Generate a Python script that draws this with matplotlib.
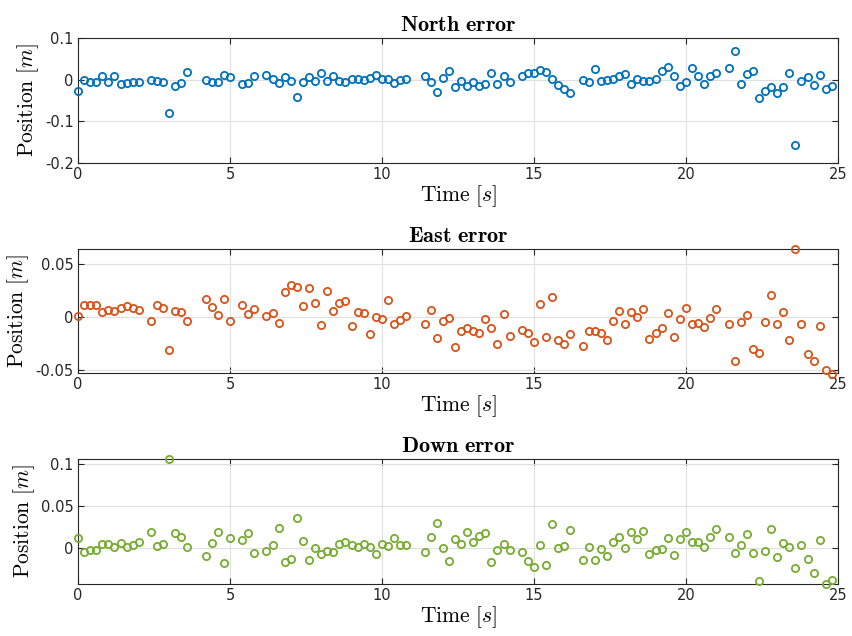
import numpy as np
import matplotlib
matplotlib.use('Agg')
import matplotlib.pyplot as plt

plt.rcParams['mathtext.fontset'] = 'cm'
plt.rcParams['font.family'] = 'DejaVu Sans'

# sample times [s] (a few samples are missing)
time = [0.0, 0.2, 0.4, 0.6, 0.8, 1.0, 1.2, 1.4, 1.6, 1.8, 2.0,
        2.4, 2.6, 2.8, 3.0, 3.2, 3.4, 3.6,
        4.2, 4.4, 4.6, 4.8, 5.0,
        5.4, 5.6, 5.8,
        6.2, 6.4, 6.6, 6.8, 7.0, 7.2, 7.4, 7.6, 7.8, 8.0, 8.2, 8.4,
        8.6, 8.8, 9.0, 9.2, 9.4, 9.6, 9.8, 10.0, 10.2, 10.4, 10.6, 10.8,
        11.4, 11.6, 11.8, 12.0, 12.2, 12.4, 12.6, 12.8, 13.0, 13.2, 13.4,
        13.6, 13.8, 14.0, 14.2,
        14.6, 14.8, 15.0, 15.2, 15.4, 15.6, 15.8, 16.0, 16.2,
        16.6, 16.8, 17.0, 17.2, 17.4, 17.6, 17.8, 18.0, 18.2, 18.4, 18.6,
        18.8, 19.0, 19.2, 19.4, 19.6, 19.8, 20.0, 20.2, 20.4, 20.6, 20.8, 21.0,
        21.4, 21.6, 21.8, 22.0, 22.2, 22.4, 22.6, 22.8, 23.0, 23.2, 23.4,
        23.6, 23.8, 24.0, 24.2, 24.4, 24.6, 24.8]

north_err = [-0.027, 0.0, -0.0065, -0.005, 0.008, -0.005, 0.008, -0.011, -0.008, -0.0065, -0.0065,
             0.0, -0.004, -0.0065, -0.081, -0.015, -0.008, 0.018,
             0.0, -0.0065, -0.0065, 0.011, 0.006,
             -0.011, -0.007, 0.009,
             0.011, 0.001, -0.009, 0.006, -0.002, -0.041, -0.0065, 0.007, -0.002, 0.015, -0.002, 0.008,
             -0.004, -0.005, 0.002, 0.002, -0.001, 0.003, 0.011, 0.001, 0.001, -0.008, 0.0, 0.001,
             0.009, -0.006, -0.030, 0.004, 0.020, -0.018, -0.004, -0.016, -0.0065, -0.016, -0.010,
             0.016, -0.010, 0.009, -0.005,
             0.008, 0.016, 0.015, 0.024, 0.018, 0.002, -0.012, -0.023, -0.031,
             0.0, -0.006, 0.026, -0.002, 0.0, 0.002, 0.008, 0.014, -0.010, 0.002, -0.004,
             -0.004, 0.002, 0.021, 0.031, 0.008, -0.015, -0.005, 0.028, 0.010, -0.010, 0.008, 0.015,
             0.028, 0.070, -0.011, 0.013, 0.021, -0.045, -0.026, -0.018, -0.033, -0.018, 0.015,
             -0.156, -0.002, 0.007, -0.013, 0.011, -0.023, -0.015]

east_err = [0.001, 0.0107, 0.0113, 0.0107, 0.0044, 0.0066, 0.0053, 0.0085, 0.0104, 0.0082, 0.0066,
            -0.0038, 0.0113, 0.0088, -0.031, 0.0053, 0.0044, -0.0038,
            0.0167, 0.0097, 0.0022, 0.0167, -0.0035,
            0.0113, 0.0031, 0.0072,
            0.0006, 0.0038, -0.0057, 0.0233, 0.0302, 0.0277, 0.0101, 0.027, 0.0126, -0.0079, 0.0242, 0.0057,
            0.0135, 0.0151, -0.0082, 0.0044, 0.0035, -0.0164, -0.0006, -0.0025, 0.016, -0.0072, -0.0031, 0.0009,
            -0.0066, 0.006, -0.020, -0.0038, -0.0009, -0.0289, -0.013, -0.0104, -0.0135, -0.0148, -0.0022,
            -0.0107, -0.0255, 0.0028, -0.018,
            -0.012, -0.0157, -0.0242, 0.0123, -0.0192, 0.0186, -0.0223, -0.0255, -0.0164,
            -0.0274, -0.0135, -0.0129, -0.0151, -0.0217, -0.0041, 0.0057, -0.0072, 0.0041, 0.0, 0.0072,
            -0.0211, -0.0157, -0.0107, 0.0038, -0.0192, -0.0025, 0.0082, -0.0063, -0.0057, -0.0094, -0.0009, 0.0072,
            -0.0072, -0.0418, -0.005, 0.0019, -0.0308, -0.0343, -0.005, 0.0208, -0.0063, 0.005, -0.022,
            0.0638, -0.0072, -0.0355, -0.0421, -0.0091, -0.0503, -0.0541]

down_err = [0.0119, -0.0044, -0.0016, -0.0016, 0.0048, 0.0052, 0.002, 0.0067, 0.0016, 0.0044, 0.0071,
            0.019, 0.0024, 0.0052, 0.106, 0.0175, 0.0139, 0.0016,
            -0.0095, 0.0067, 0.0187, -0.0171, 0.0119,
            0.0103, 0.0175, -0.006,
            -0.0036, 0.004, 0.0238, -0.0159, -0.0131, 0.0357, 0.0091, -0.0139, 0.0004, -0.0067, -0.0028, -0.0048,
            0.0048, 0.0071, 0.0036, 0.002, 0.0052, 0.002, -0.0071, 0.0048, 0.0024, 0.0123, 0.0044, 0.004,
            -0.0048, 0.0139, 0.0298, 0.0, -0.0151, 0.0115, 0.0052, 0.0187, 0.0075, 0.0151, 0.0175,
            -0.0167, -0.002, 0.0048, -0.0016,
            -0.0044, -0.0147, -0.0218, 0.004, -0.0198, 0.029, 0.0004, 0.0028, 0.0214,
            -0.0143, 0.002, -0.0135, -0.0008, -0.0087, 0.0079, 0.0135, 0.0, 0.0198, 0.0107, 0.0202,
            -0.0067, -0.0016, -0.0008, 0.0123, -0.0075, 0.0107, 0.019, 0.0079, 0.0075, 0.0016, 0.0131, 0.0226,
            0.0135, -0.0056, 0.0036, 0.0171, -0.006, -0.0393, -0.0032, 0.0226, -0.0099, 0.0063, 0.0012,
            -0.0238, 0.0036, -0.0123, -0.0298, 0.0103, -0.0425, -0.0377]

titles = ['North error', 'East error', 'Down error']
colors = ['#0072BD', '#D95319', '#77AC30']
ylims = [(-0.2, 0.1), (-0.053, 0.064), (-0.0425, 0.106)]
yticks = [[-0.2, -0.1, 0, 0.1], [-0.05, 0, 0.05], [0, 0.05, 0.1]]
ytick_labels = [['-0.2', '-0.1', '0', '0.1'], ['-0.05', '0', '0.05'], ['0', '0.05', '0.1']]
xticks = [0, 5, 10, 15, 20, 25]

fig = plt.figure(figsize=(8.52, 6.36), dpi=100)
# axes boxes in figure fractions (left, bottom, width, height)
boxes = [[0.0915, 0.7437, 0.892, 0.1965],
         [0.0915, 0.4135, 0.892, 0.195],
         [0.0915, 0.0818, 0.892, 0.1965]]

for i, err in enumerate([north_err, east_err, down_err]):
    ax = fig.add_axes(boxes[i])
    ax.plot(time, err, 'o', color=colors[i], markerfacecolor='none',
            markersize=5.2, markeredgewidth=1.3, zorder=3, clip_on=False)
    ax.set_xlim(0, 25)
    ax.set_ylim(*ylims[i])
    ax.set_xticks(xticks)
    ax.set_yticks(yticks[i])
    ax.set_yticklabels(ytick_labels[i])
    ax.grid(True, color='#dfdfdf', linewidth=0.8)
    ax.set_axisbelow(True)
    for s in ax.spines.values():
        s.set_color('#262626')
        s.set_linewidth(0.8)
    ax.tick_params(direction='in', top=True, right=True, length=4,
                   colors='#262626', labelsize=10.5, width=0.8, pad=3)
    ax.set_title(r'$\mathbf{' + titles[i].replace(' ', r'\ ') + '}$',
                 fontsize=16, pad=5)
    ax.set_xlabel(r'$\mathrm{Time}\ [s]$', fontsize=15.5, labelpad=1)
    ax.set_ylabel(r'$\mathrm{Position}\ [m]$', fontsize=15.5, labelpad=3)

fig.savefig('out.png', dpi=100)
